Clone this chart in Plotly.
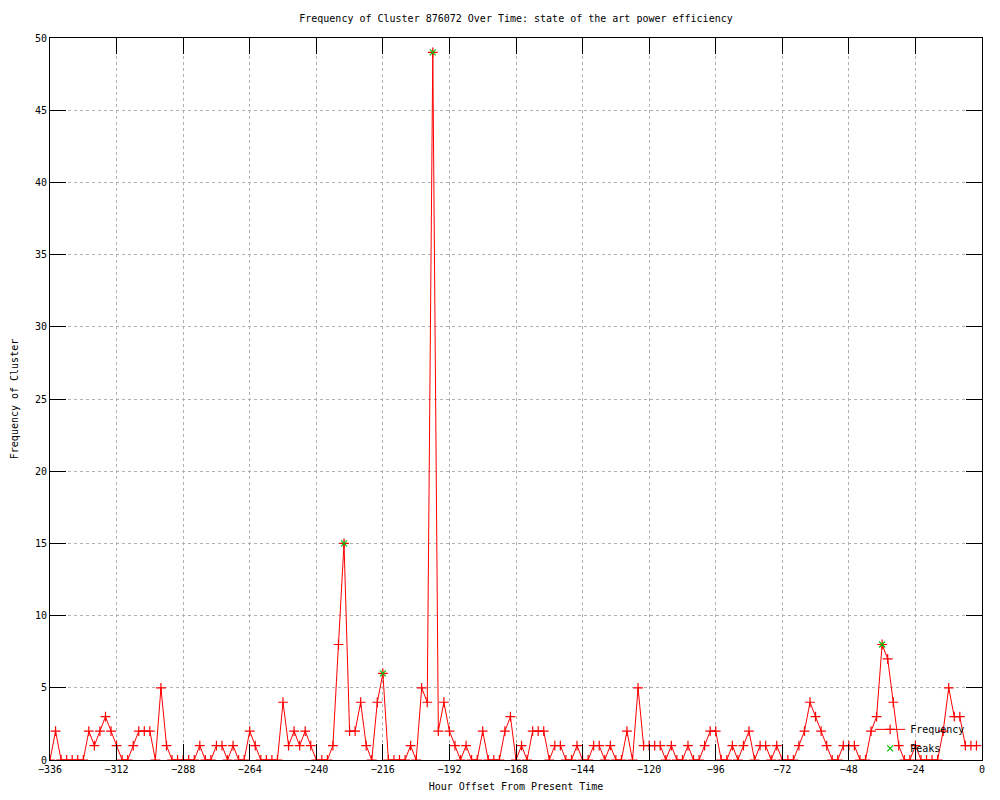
import plotly.graph_objects as go

# Hour offsets every 2 hours from -336 to -2
hours = [-336 + 2 * i for i in range(168)]
frequency = [
    0, 2, 0, 0, 0, 0, 0, 2, 1, 2,
    3, 2, 1, 0, 0, 1, 2, 2, 2, 0,
    5, 1, 0, 0, 0, 0, 0, 1, 0, 0,
    1, 1, 0, 1, 0, 0, 2, 1, 0, 0,
    0, 0, 4, 1, 2, 1, 2, 1, 0, 0,
    0, 1, 8, 15, 2, 2, 4, 1, 0, 4,
    6, 0, 0, 0, 0, 1, 0, 5, 4, 49,
    2, 4, 2, 1, 0, 1, 0, 0, 2, 0,
    0, 0, 2, 3, 0, 1, 0, 2, 2, 2,
    0, 1, 1, 0, 0, 1, 0, 0, 1, 1,
    0, 1, 0, 0, 2, 0, 5, 1, 1, 1,
    1, 0, 1, 0, 0, 1, 0, 0, 1, 2,
    2, 0, 0, 1, 0, 1, 2, 0, 1, 1,
    0, 1, 0, 0, 0, 1, 2, 4, 3, 2,
    1, 0, 0, 1, 1, 1, 0, 0, 2, 3,
    8, 7, 4, 1, 0, 0, 1, 0, 0, 0,
    0, 2, 5, 3, 3, 1, 1, 1,
]
peak_hours = [-230, -216, -198, -36]
peak_values = [15, 6, 49, 8]

x_ticks = list(range(-336, 1, 24))
y_ticks = list(range(0, 51, 5))

FONT = "DejaVu Sans Mono"

fig = go.Figure()
fig.add_trace(go.Scatter(
    x=hours, y=frequency, mode="lines+markers", name="Frequency",
    line=dict(color="#ff0000", width=1),
    marker=dict(symbol="cross-thin", size=7, line=dict(color="#ff0000", width=1.2)),
))
fig.add_trace(go.Scatter(
    x=peak_hours, y=peak_values, mode="markers", name="Peaks",
    marker=dict(symbol="x-thin", size=6, line=dict(color="#00c000", width=1.2)),
))

axis_common = dict(
    showline=True, mirror="ticks", linecolor="black", linewidth=1,
    ticks="inside", ticklen=16, tickcolor="black", tickwidth=1,
    showgrid=True, gridcolor="#b0b0b0", griddash="dot", gridwidth=1,
    zeroline=False, automargin=False,
    tickfont=dict(family=FONT, size=10, color="black"),
)

fig.update_layout(
    width=1000, height=800,
    paper_bgcolor="white", plot_bgcolor="white",
    margin=dict(l=50, r=18, t=38, b=40),
    title=dict(text="Frequency of Cluster 876072 Over Time: state of the art power efficiency",
               x=0.516, xanchor="center", y=1 - 18 / 800, yanchor="middle",
               font=dict(family=FONT, size=10, color="black")),
    xaxis=dict(range=[-336, 0], tickvals=x_ticks,
               title=dict(text="Hour Offset From Present Time", standoff=8,
                          font=dict(family=FONT, size=10, color="black")),
               **axis_common),
    yaxis=dict(range=[0, 50], tickvals=y_ticks,
               title=dict(text="Frequency of Cluster", standoff=14,
                          font=dict(family=FONT, size=10, color="black")),
               **axis_common),
    legend=dict(x=0.88, xanchor="left", y=-0.004, yanchor="bottom",
                bgcolor="rgba(0,0,0,0)", font=dict(family=FONT, size=10, color="black"),
                itemwidth=30, tracegroupgap=0),
    showlegend=True,
)

fig.write_html("out.html", post_script="document.body.style.margin='0';",
               config={"displayModeBar": False})
